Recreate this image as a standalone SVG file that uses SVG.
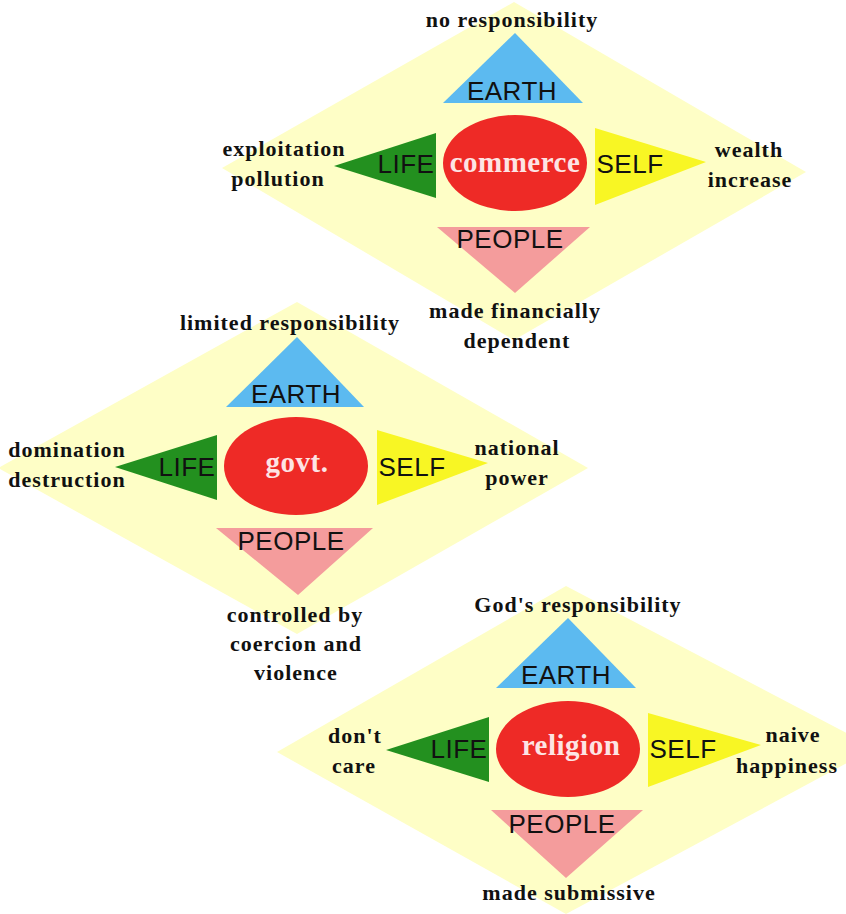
<svg xmlns="http://www.w3.org/2000/svg" width="846" height="914" viewBox="0 0 846 914">
<style>
.dia{fill:#fefec6;}
.earth{fill:#5cbaf0;}
.core{fill:#ee2a26;}
.life{fill:#23901f;}
.self{fill:#f8f624;}
.people{fill:#f49c9c;}
.lbl{font-family:"Liberation Sans",Arial,sans-serif;font-size:26px;fill:#111;text-anchor:middle;letter-spacing:0.5px;}
.ctr{font-family:"Liberation Serif","Times New Roman",serif;font-weight:bold;font-size:29px;fill:#fde4e4;text-anchor:middle;letter-spacing:0.5px;}
.note{font-family:"Liberation Serif","Times New Roman",serif;font-weight:bold;font-size:22px;fill:#111;text-anchor:middle;letter-spacing:1px;}
</style>
<rect width="846" height="914" fill="#ffffff"/>
<g id="commerce-diagram">
  <polygon class="dia" points="514,2 806,172 514,340 222,168"/>
  <g id="commerce-earth"><polygon class="earth" points="515,33 583,103 443,103"/><text class="lbl" x="512" y="100">EARTH</text></g>
  <g id="commerce-core"><ellipse class="core" cx="515" cy="163" rx="72" ry="48"/><text class="ctr" x="515" y="172">commerce</text></g>
  <g id="commerce-life"><polygon class="life" points="334,166 436,133 436,198"/><text class="lbl" x="406" y="173">LIFE</text></g>
  <g id="commerce-self"><polygon class="self" points="595,128 706,162 595,205"/><text class="lbl" x="630" y="173">SELF</text></g>
  <g id="commerce-people"><polygon class="people" points="437,227 590,227 515,293"/><text class="lbl" x="510" y="248">PEOPLE</text></g>
  <text class="note" x="512" y="27">no responsibility</text>
  <text class="note" x="284" y="156">exploitation</text>
  <text class="note" x="278" y="186">pollution</text>
  <text class="note" x="749" y="157">wealth</text>
  <text class="note" x="750" y="187">increase</text>
  <text class="note" x="515" y="318">made financially</text>
  <text class="note" x="517" y="348">dependent</text>
</g>
<g id="govt-diagram">
  <polygon class="dia" points="297,302 588,468 297,634 -2,468"/>
  <g id="govt-earth"><polygon class="earth" points="297,337 364,407 226,407"/><text class="lbl" x="296" y="403">EARTH</text></g>
  <g id="govt-core"><ellipse class="core" cx="296" cy="466" rx="72" ry="49"/><text class="ctr" x="297" y="472">govt.</text></g>
  <g id="govt-life"><polygon class="life" points="115,467 217,435 217,500"/><text class="lbl" x="187" y="476">LIFE</text></g>
  <g id="govt-self"><polygon class="self" points="377,430 488,463 377,505"/><text class="lbl" x="412" y="476">SELF</text></g>
  <g id="govt-people"><polygon class="people" points="216,528 373,528 298,595"/><text class="lbl" x="291" y="550">PEOPLE</text></g>
  <text class="note" x="290" y="330">limited responsibility</text>
  <text class="note" x="67" y="457">domination</text>
  <text class="note" x="67" y="487">destruction</text>
  <text class="note" x="517" y="455">national</text>
  <text class="note" x="517" y="485">power</text>
  <text class="note" x="295" y="622">controlled by</text>
  <text class="note" x="296" y="651">coercion and</text>
  <text class="note" x="296" y="680">violence</text>
</g>
<g id="religion-diagram">
  <polygon class="dia" points="566,586 875,748 566,914 277,752"/>
  <g id="religion-earth"><polygon class="earth" points="568,618 636,688 496,688"/><text class="lbl" x="566" y="684">EARTH</text></g>
  <g id="religion-core"><ellipse class="core" cx="568" cy="749" rx="72" ry="48"/><text class="ctr" x="571" y="755">religion</text></g>
  <g id="religion-life"><polygon class="life" points="386,750 489,717 489,782"/><text class="lbl" x="459" y="758">LIFE</text></g>
  <g id="religion-self"><polygon class="self" points="648,713 761,745 648,787"/><text class="lbl" x="683" y="758">SELF</text></g>
  <g id="religion-people"><polygon class="people" points="491,810 643,810 566,878"/><text class="lbl" x="562" y="833">PEOPLE</text></g>
  <text class="note" x="578" y="612">God's responsibility</text>
  <text class="note" x="355" y="743">don't</text>
  <text class="note" x="354" y="773">care</text>
  <text class="note" x="793" y="742">naive</text>
  <text class="note" x="787" y="773">happiness</text>
  <text class="note" x="569" y="900">made submissive</text>
</g>
<g id="connectors"/>
</svg>
